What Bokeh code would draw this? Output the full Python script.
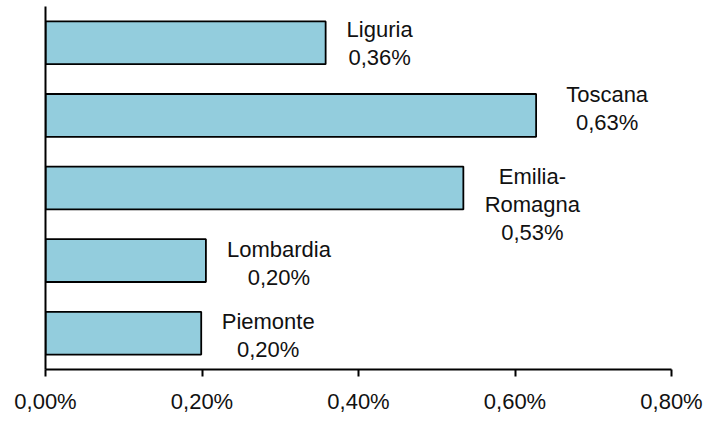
from bokeh.plotting import figure
from bokeh.models import ColumnDataSource, FactorRange, Range1d, FixedTicker, CustomJSTickFormatter
from bokeh.core.properties import value
from bokeh.embed import file_html
from bokeh.resources import INLINE

# Data (bottom to top)
regions = ["Piemonte", "Lombardia", "Emilia-Romagna", "Toscana", "Liguria"]
label_names = ["Piemonte", "Lombardia", "Emilia-\nRomagna", "Toscana", "Liguria"]
values = [0.199, 0.205, 0.534, 0.627, 0.358]
value_labels = ["0,20%", "0,20%", "0,53%", "0,63%", "0,36%"]
x_ticks = [0.0, 0.2, 0.4, 0.6, 0.8]

# label placement styles (pixels)
label_dx = [67, 73, 69, 71, 54]
label_dy = [2, 3, 16, -7, 1]

FONT = "Liberation Sans"

src = ColumnDataSource(dict(
    region=regions,
    val=values,
    txt=[f"{n}\n{v}" for n, v in zip(label_names, value_labels)],
    dx=label_dx,
    dy=label_dy,
))

p = figure(width=703, height=418, output_backend="svg", toolbar_location=None,
           y_range=FactorRange(factors=regions, range_padding=0),
           x_range=Range1d(0, 0.8),
           min_border_left=45, min_border_right=32, min_border_top=6, min_border_bottom=49)

p.hbar(y="region", right="val", left=0, height=0.59, source=src,
       fill_color="#93CDDD", line_color="#000000", line_width=1.8)

p.text(x="val", y="region", text="txt", source=src, x_offset="dx", y_offset="dy",
       text_align="center", text_baseline="middle", text_font=value(FONT),
       text_font_size="22px", text_color="#111111", text_line_height=1.12)

p.xgrid.visible = False
p.ygrid.visible = False
p.outline_line_color = None
p.background_fill_color = "white"

xa = p.xaxis[0]
xa.ticker = FixedTicker(ticks=x_ticks)
xa.formatter = CustomJSTickFormatter(code="return tick.toFixed(2).replace('.', ',') + '%';")
xa.axis_line_width = 2
xa.axis_line_color = "#000000"
xa.major_tick_line_width = 2
xa.major_tick_line_color = "#000000"
xa.major_tick_in = 0
xa.major_tick_out = 7
xa.minor_tick_line_color = None
xa.major_label_text_font = FONT
xa.major_label_text_font_size = "22px"
xa.major_label_text_color = "#111111"
xa.major_label_standoff = 12

ya = p.yaxis[0]
ya.axis_line_width = 2
ya.axis_line_color = "#000000"
ya.major_tick_line_color = None
ya.minor_tick_line_color = None
ya.major_label_text_font_size = "0px"
ya.major_label_text_color = None

open("out.html", "w").write(file_html(p, INLINE))
